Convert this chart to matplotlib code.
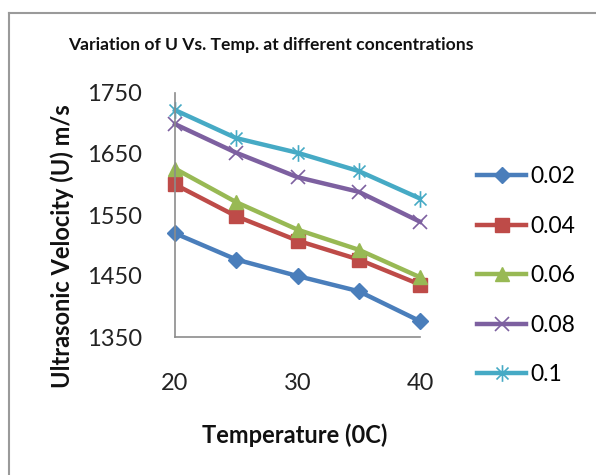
import matplotlib
matplotlib.use("Agg")
import matplotlib.pyplot as plt
from matplotlib.path import Path
from matplotlib.lines import Line2D

# Temperatures (deg C) and ultrasonic velocity (m/s) per concentration
temperature = [20, 25, 30, 35, 40]
concentrations = ["0.02", "0.04", "0.06", "0.08", "0.1"]
u_002 = [1520, 1477, 1450, 1425, 1376]
u_004 = [1600, 1548, 1508, 1477, 1436]
u_006 = [1626, 1571, 1526, 1493, 1448]
u_008 = [1699, 1652, 1612, 1588, 1539]
u_010 = [1722, 1676, 1652, 1622, 1577]
x_ticks = [20, 30, 40]
y_ticks = [1350, 1450, 1550, 1650, 1750]

series = [u_002, u_004, u_006, u_008, u_010]
colors = ["#4A7EBB", "#BE4B48", "#98B954", "#7D60A0", "#46AAC5"]

# Excel-style star marker: vertical stroke plus an X
star = Path([(0, -1), (0, 1), (-0.72, -0.72), (0.72, 0.72), (-0.72, 0.72), (0.72, -0.72)],
            [Path.MOVETO, Path.LINETO, Path.MOVETO, Path.LINETO, Path.MOVETO, Path.LINETO])
markers = [
    dict(marker="D", markersize=8.5, markerfacecolor=colors[0], markeredgecolor=colors[0]),
    dict(marker="s", markersize=9.5, markerfacecolor=colors[1], markeredgecolor=colors[1]),
    dict(marker="^", markersize=10, markerfacecolor=colors[2], markeredgecolor=colors[2]),
    dict(marker="x", markersize=10, markeredgewidth=1.2, markeredgecolor=colors[3]),
    dict(marker=star, markersize=12, markeredgewidth=1.2, markerfacecolor="none",
         markeredgecolor=colors[4]),
]

FONT = ["Lato", "DejaVu Sans"]
plt.rcParams["font.family"] = FONT

W, H = 596, 475
fig = plt.figure(figsize=(W / 100, H / 100), dpi=100)

# Outer chart frame
fig.add_artist(Line2D([9 / W, 1.0], [1 - 13 / H, 1 - 13 / H], color="#9a9a9a", lw=1.5))
fig.add_artist(Line2D([9 / W, 9 / W], [0.0, 1 - 13 / H], color="#9a9a9a", lw=1.5))

left, right = 175 / W, 420 / W
bottom, top = 1 - 337 / H, 1 - 93 / H
ax = fig.add_axes([left, bottom, right - left, top - bottom])

handles = []
for vals, c, m, lab in zip(series, colors, markers, concentrations):
    h, = ax.plot(temperature, vals, color=c, lw=3.2, label=lab, clip_on=False,
                 solid_joinstyle="round", **m)
    handles.append(h)

ax.set_xlim(20, 40)
ax.set_ylim(1350, 1750)
ax.set_xticks(x_ticks)
ax.set_yticks(y_ticks)
ax.tick_params(length=0, labelsize=17, colors="#222222")
ax.tick_params(axis="x", pad=26)
ax.tick_params(axis="y", pad=24)
for s in ["top", "right"]:
    ax.spines[s].set_visible(False)
for s in ["left", "bottom"]:
    ax.spines[s].set_color("#8c8c8c")
    ax.spines[s].set_linewidth(1.2)

fig.text(271 / W, 1 - 45 / H, "Variation of U Vs. Temp. at different concentrations",
         ha="center", va="center", fontsize=12.6, fontweight="bold", color="#111111")
fig.text(62 / W, 1 - 246 / H, "Ultrasonic Velocity (U) m/s", rotation=90,
         ha="center", va="center", fontsize=17, fontweight="bold", color="#111111")
fig.text(295 / W, 1 - 435 / H, "Temperature (0C)", ha="center", va="center",
         fontsize=17, fontweight="bold", color="#111111")

fig.legend(handles=handles, labels=concentrations, loc="upper left",
           bbox_to_anchor=(466 / W, 1 - 155 / H), frameon=False, fontsize=16.5,
           handlelength=2.1, handletextpad=0.2, labelspacing=1.24, borderpad=0)

fig.savefig("out.png", dpi=100)
